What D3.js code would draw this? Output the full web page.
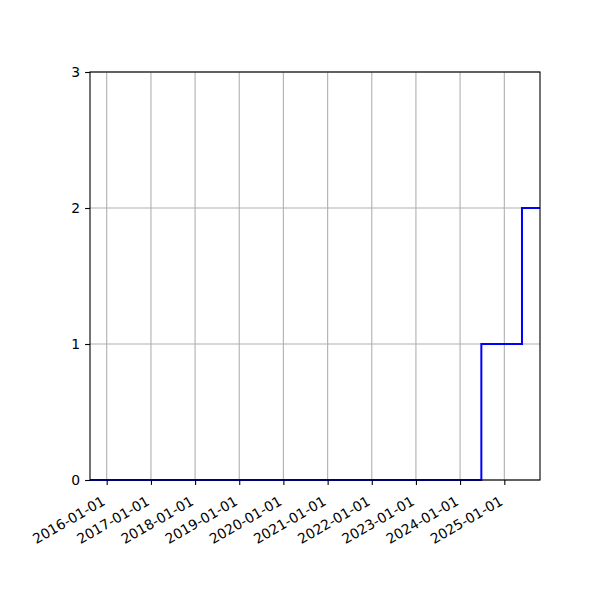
<!DOCTYPE html>
<html>
<head>
<meta charset="utf-8">
<script src="https://cdn.jsdelivr.net/npm/d3@7"></script>
<style>
  body { margin: 0; background: #fff; }
  svg { display: block; }
  svg text { font-family: "DejaVu Sans", sans-serif; }
</style>
</head>
<body>
<div id="chart"></div>
<script>
// step data (value holds from each date until the next one)
const stepDates = ["2015-08-16", "2024-06-25", "2025-05-27", "2025-10-23"];
const stepValues = [0, 1, 2, 2];
const xTickDates = ["2016-01-01", "2017-01-01", "2018-01-01", "2019-01-01", "2020-01-01",
  "2021-01-01", "2022-01-01", "2023-01-01", "2024-01-01", "2025-01-01"];
const yTicks = [0, 1, 2, 3];

const width = 600;
const height = 600;
const margin = { top: 72, right: 60, bottom: 120, left: 90 };

const parse = d3.utcParse("%Y-%m-%d");
const data = stepDates.map((d, i) => ({ date: parse(d), value: stepValues[i] }));

const svg = d3
  .select("#chart")
  .append("svg")
  .attr("width", width)
  .attr("height", height);

const xScale = d3
  .scaleUtc()
  .domain(d3.extent(data, (d) => d.date))
  .range([margin.left, width - margin.right]);

const yScale = d3
  .scaleLinear()
  .domain([0, 3])
  .range([height - margin.bottom, margin.top]);

// grid
const grid = svg.append("g").attr("stroke", "#b0b0b0").attr("stroke-width", 1.1);
grid
  .selectAll("line.vx")
  .data(xTickDates.map(parse))
  .enter()
  .append("line")
  .attr("x1", (d) => xScale(d))
  .attr("x2", (d) => xScale(d))
  .attr("y1", margin.top)
  .attr("y2", height - margin.bottom);
grid
  .selectAll("line.hy")
  .data(yTicks)
  .enter()
  .append("line")
  .attr("x1", margin.left)
  .attr("x2", width - margin.right)
  .attr("y1", (d) => yScale(d))
  .attr("y2", (d) => yScale(d));

// step line
const line = d3
  .line()
  .x((d) => xScale(d.date))
  .y((d) => yScale(d.value))
  .curve(d3.curveStepAfter);

svg
  .append("path")
  .datum(data)
  .attr("fill", "none")
  .attr("stroke", "#0000ff")
  .attr("stroke-width", 2)
  .attr("d", line);

// axes
const xAxis = d3
  .axisBottom(xScale)
  .tickValues(xTickDates.map(parse))
  .tickFormat(d3.utcFormat("%Y-%m-%d"))
  .tickSizeInner(4.9)
  .tickSizeOuter(0);

const gx = svg
  .append("g")
  .attr("transform", `translate(0, ${height - margin.bottom})`)
  .call(xAxis);
gx.select(".domain").remove();
gx.selectAll(".tick line").attr("stroke-width", 1.1);
gx.selectAll(".tick text")
  .attr("x", 0)
  .attr("y", 0)
  .attr("dy", 0)
  .attr("text-anchor", "end")
  .attr("transform", "translate(-1, 24) rotate(-30)")
  .style("font-family", "'DejaVu Sans', sans-serif")
  .style("font-size", "13.9px")
  .attr("fill", "#000");

const yAxis = d3
  .axisLeft(yScale)
  .tickValues(yTicks)
  .tickFormat(d3.format("d"))
  .tickSizeInner(4.9)
  .tickPadding(4.9)
  .tickSizeOuter(0);

const gy = svg
  .append("g")
  .attr("transform", `translate(${margin.left}, 0)`)
  .call(yAxis);
gy.select(".domain").remove();
gy.selectAll(".tick line").attr("stroke-width", 1.1);
gy.selectAll(".tick text")
  .style("font-family", "'DejaVu Sans', sans-serif")
  .style("font-size", "13.9px")
  .attr("fill", "#000");

// frame
svg
  .append("rect")
  .attr("x", margin.left)
  .attr("y", margin.top)
  .attr("width", width - margin.left - margin.right)
  .attr("height", height - margin.top - margin.bottom)
  .attr("fill", "none")
  .attr("stroke", "#000")
  .attr("stroke-width", 1.1);
</script>
</body>
</html>
